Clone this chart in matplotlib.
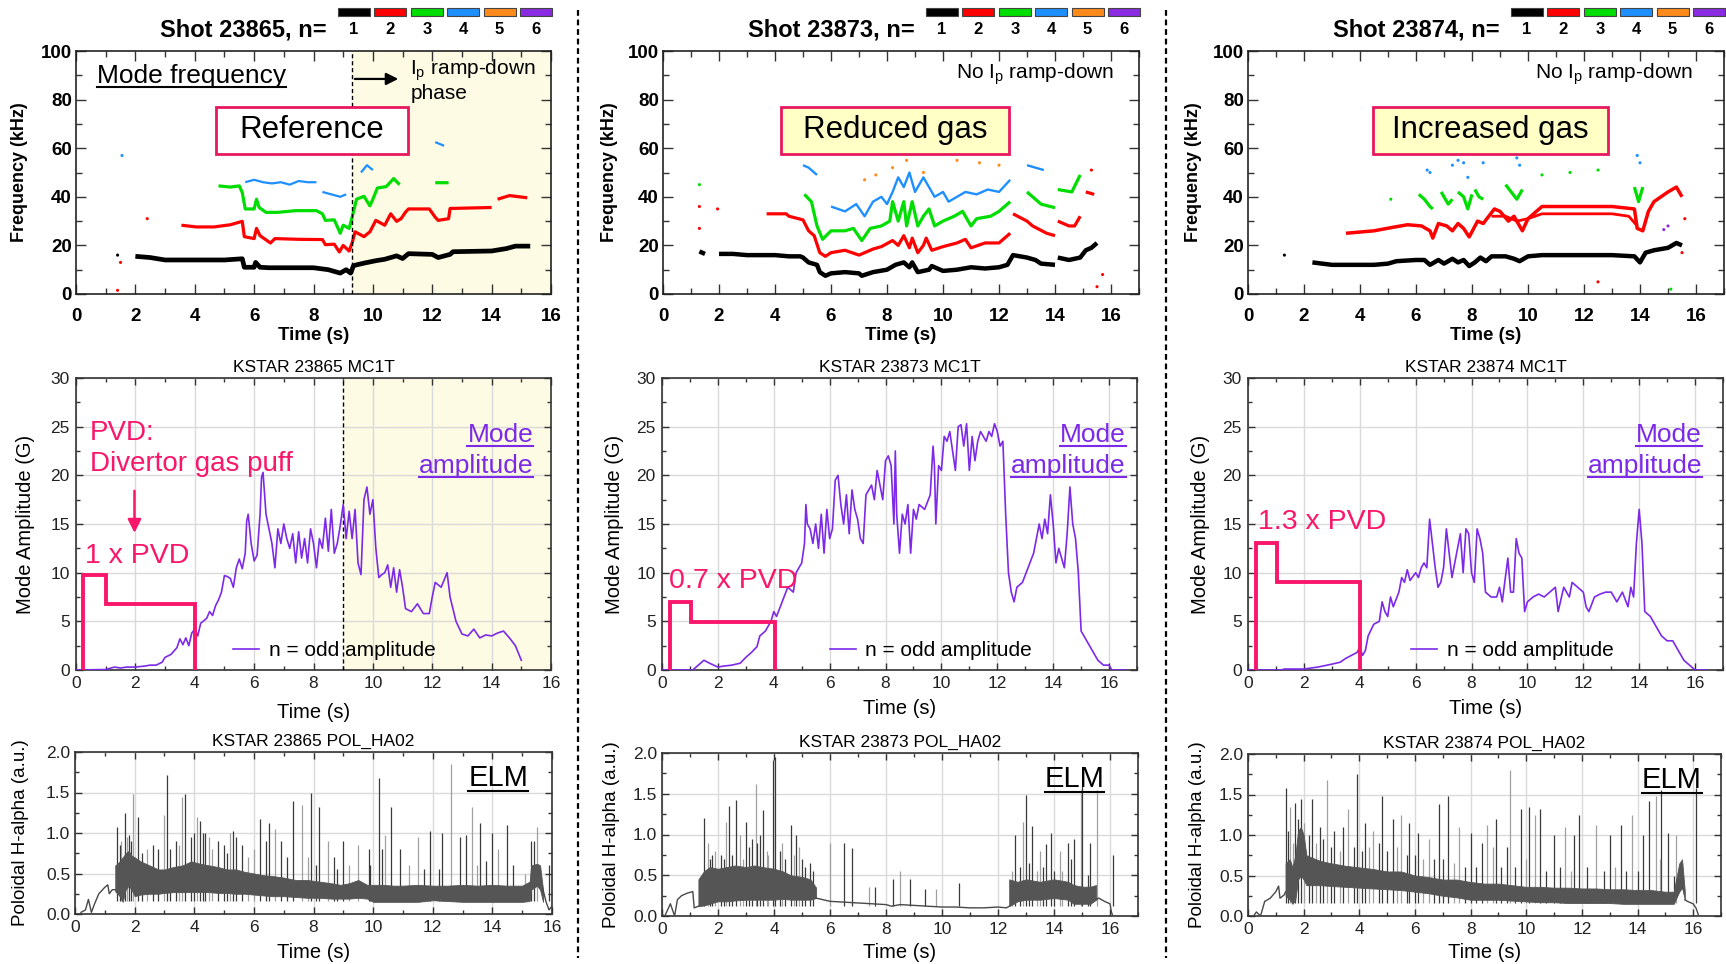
import numpy as np
import matplotlib
matplotlib.use("Agg")
import matplotlib.pyplot as plt
from matplotlib.patches import Rectangle
from matplotlib.lines import Line2D

nan = float("nan")

# ====================== DATA ======================
shots = ["23865", "23873", "23874"]
n_labels = ["1", "2", "3", "4", "5", "6"]
mode_colors = ["#000000", "#ff0000", "#00dd00", "#1e8fff", "#ff8a1c", "#8a2be2"]
box_labels = ["Reference", "Reduced gas", "Increased gas"]
pvd_labels = ["1 x PVD", "0.7 x PVD", "1.3 x PVD"]

# ---- mode frequency (kHz) vs time (s) ----
# shot 23865
s1_n1_t = [2.0, 2.5, 3.0, 3.5, 4.0, 4.5, 5.0, 5.6, 5.67, 6.0, 6.05, 6.2, 6.5, 7.0, 7.5, 8.0, 8.5, 8.9, 9.1, 9.25,
           9.35, 9.7, 10.1, 10.4, 10.8, 11.0, 11.2, 12.0, 12.2, 12.6, 12.7, 14.0, 14.5, 14.8, 15.3]
s1_n1_f = [15.5, 15, 14, 14, 14, 14, 14, 14.5, 11, 11, 13, 11, 10.8, 10.8, 10.8, 10.8, 10, 8.6, 10, 8.6,
           11.7, 12.7, 13.7, 14.3, 15.7, 14.6, 16.6, 16.3, 15, 16.3, 17.4, 17.7, 18.7, 19.7, 19.7]
s1_n2_t = [3.55, 4.05, 4.65, 5.2, 5.6, 5.67, 6.0, 6.08, 6.2, 6.55, 6.7, 7.5, 8.3, 8.4, 8.7, 8.87, 9.0, 9.2, 9.3, 9.4,
           9.7, 9.9, 10.1, 10.4, 10.6, 10.8, 10.95, 11.1, 11.2, 11.9, 12.1, 12.2, 12.55, 12.6, 14.0, nan, 14.2, 14.6, 15.2]
s1_n2_f = [28.3, 27.6, 27.6, 28.5, 29.9, 23.6, 22.8, 27, 24, 21, 22.8, 22.5, 22.4, 20.3, 20.5, 17.3, 20, 17.7, 21, 25.6,
           23.6, 25.6, 30.3, 28.3, 33, 29.9, 31, 33.7, 35, 35, 31.6, 30.3, 31, 35.2, 35.6, nan, 39, 40.5, 39.6]
s1_n3_t = [4.8, 5.2, 5.5, 5.6, 5.7, 6.0, 6.08, 6.17, 6.4, 6.8, 7.4, 8.1, 8.3, 8.4, 8.7, 8.9, 9.0, 9.2, 9.3, 9.45,
           9.7, 9.9, 10.0, 10.15, 10.45, 10.7, 10.9, nan, 12.1, 12.55]
s1_n3_f = [44.5, 44, 44.5, 41.8, 35, 35, 39, 35.6, 33.6, 33.6, 34.3, 34.3, 33, 30.3, 30.5, 25, 28.3, 27, 31.6, 39,
           40.2, 36.3, 39, 43.6, 44.2, 47.5, 45, nan, 45.8, 45.8]
s1_n4_t = [5.7, 6.0, 6.3, 6.6, 6.9, 7.2, 7.5, 7.8, 8.1, nan, 8.3, 8.6, 8.9, 9.1, nan, 9.6, 9.8, 10.0, nan, 12.1, 12.4]
s1_n4_f = [46, 47, 46, 45.5, 46, 45, 46.5, 46, 46, nan, 42, 41, 40, 41, nan, 50, 53, 51, nan, 62.5, 61]
s1_dot_t = [1.4, 1.4, 1.5, 2.4, 1.55]
s1_dot_f = [16, 1.5, 13, 31, 57]
s1_dot_c = [0, 1, 1, 1, 3]

# shot 23873
s2_n1_t = [1.3, 1.5, nan, 2.0, 2.5, 3.0, 3.5, 4.0, 4.5, 4.9, 5.0, 5.2, 5.5, 5.6, 5.8, 6.0, 6.5, 7.0, 7.1, 7.5,
           8.0, 8.3, 8.6, 8.8, 8.9, 9.1, 9.5, 9.6, 10.0, 10.5, 11.0, 11.5, 12.0, 12.3, 12.5, 13.0, 13.3, 13.5, 14.0,
           14.05, 14.1, 14.5, 14.9, 15.1, 15.3, 15.5]
s2_n1_f = [17.5, 16.5, nan, 16.5, 16.5, 16, 16, 16, 15.5, 15.5, 15, 13, 12, 9, 7.5, 8.5, 9, 8.5, 7.5, 9,
           10, 12, 13, 11, 13, 9, 10, 11.5, 9.5, 10, 11, 10.5, 11, 12, 16, 15, 14, 12.5, 12,
           nan, 15, 14, 15, 18, 19, 21]
s2_n2_t = [3.7, 4.0, 4.4, 4.5, 5.0, 5.2, 5.4, 5.6, 5.8, 6.0, 6.5, 7.0, 7.5, 7.8, 8.2, 8.4, 8.6, 8.8, 8.9, 9.1,
           9.3, 9.4, 9.6, 10.0, 10.5, 10.8, 11.0, 11.5, 12.0, 12.4, 12.45, 12.5, 13.0, 13.2, 13.7, 14.0, 14.05, 14.1,
           14.5, 14.7, 14.9, 14.95, 15.1, 15.4]
s2_n2_f = [33, 33, 33, 32, 30.5, 26, 24, 17, 15.5, 17, 18, 16, 18.5, 19.5, 22, 20, 24, 19, 23, 17,
           20, 23, 18, 19.5, 21, 22.5, 19, 21, 21, 25, nan, 33, 30, 28, 25, 24, nan, 30,
           28, 28, 32, nan, 42, 41]
s2_n3_t = [5.05, 5.3, 5.5, 5.7, 6.0, 6.5, 6.8, 7.1, 7.4, 7.8, 8.1, 8.2, 8.4, 8.6, 8.7, 8.9, 9.1, 9.3, 9.5, 9.7,
           10.0, 10.4, 10.7, 11.0, 11.2, 11.7, 12.0, 12.4, 12.45, 13.0, 13.5, 14.0, 14.05, 14.1, 14.6, 14.9]
s2_n3_f = [41, 38, 28, 22.5, 26, 26, 27, 22, 27, 28, 30, 38, 30, 38, 28, 38, 28, 32, 35, 28,
           30, 32, 34, 28, 31, 32, 34, 38, nan, 42, 37, 35.5, nan, 43, 42, 49]
s2_n4_t = [5.0, 5.2, 5.5, nan, 6.0, 6.5, 6.9, 7.2, 7.5, 7.8, 8.0, 8.2, 8.4, 8.6, 8.8, 9.0, 9.3, 9.7, 10.0, 10.2,
           10.8, 11.2, 11.6, 12.0, 12.4, nan, 13.0, 13.6]
s2_n4_f = [53, 52, 49, nan, 36, 34, 37, 32, 38, 40, 37, 42, 48, 44, 50, 42, 48, 40, 42, 38,
           42, 41, 43, 42, 47, nan, 53, 51]
s2_dot_t = [7.2, 7.6, 8.2, 8.7, 9.3, 10.5, 11.3, 12.0, 1.3, 1.3, 1.3, 1.95, 15.5, 15.7, 15.3]
s2_dot_f = [47, 49, 52, 55, 50, 55, 54, 53, 45, 36, 27, 35, 3, 8, 51]
s2_dot_c = [4, 4, 4, 4, 4, 4, 4, 4, 2, 1, 1, 1, 1, 1, 1]

# shot 23874
s3_n1_t = [2.3, 3.0, 3.5, 4.0, 4.5, 5.0, 5.3, 6.0, 6.3, 6.5, 6.8, 7.0, 7.3, 7.5, 7.7, 7.9, 8.1, 8.3, 8.5, 8.7,
           9.2, 9.5, 9.7, 10.0, 10.5, 11.0, 12.0, 13.0, 13.8, 14.0, 14.2, 14.5, 15.0, 15.3, 15.5]
s3_n1_f = [13, 12, 12, 12, 12, 12.5, 13.5, 14, 14, 12, 14, 12.5, 14.5, 13, 14, 11.5, 13, 15, 13.5, 15.5,
           15.5, 14.5, 13.5, 15.5, 16, 16, 16, 16, 15.5, 13, 17, 18, 19, 21, 20]
s3_n2_t = [3.5, 4.0, 4.5, 5.2, 5.7, 6.2, 6.5, 6.6, 6.8, 7.1, 7.3, 7.5, 7.7, 7.9, 8.2, 8.4, 8.8, 9.0, 9.3, 9.5,
           9.7, 9.8, 10.0, 10.3, 10.5, 11.0, 12.0, 13.0, 13.8, 13.9, 14.1, 14.3, 14.5, 15.0, 15.3, 15.5]
s3_n2_f = [25, 25.5, 26, 27.5, 28.5, 28, 26, 23, 29, 28, 26, 29, 27, 23.5, 30, 29, 35, 34, 30, 32,
           28, 26, 31, 34, 36, 36, 36, 36, 35, 27, 26, 34, 38, 42, 44, 40]
s3_n2b_t = [8.7, 9.2, 9.6, 10.0, 10.5, 11.0, 12.0, 13.0, 13.6, 13.9]
s3_n2b_f = [32, 32, 30, 31, 33, 33, 33, 33, 32, 28]
s3_n3_t = [6.1, 6.3, 6.5, 6.6, nan, 6.9, 7.0, 7.15, 7.3, nan, 7.5, 7.7, 7.85, 8.0, nan, 8.1, 8.25, 8.4, nan,
           9.2, 9.4, 9.6, 9.8, nan, 13.8, 13.95, 14.1]
s3_n3_f = [41, 39, 36, 35, nan, 42, 40, 37, 39, nan, 42, 40, 35, 41, nan, 43, 40, 39, nan,
           45, 42, 39, 43, nan, 44, 38, 44]
s3_dot_t = [6.4, 6.5, 7.3, 7.5, 7.7, 7.85, 8.4, 9.6, 9.7, 13.9, 14.0, 14.85, 15.0, 1.3, 5.1, 10.5, 11.5, 12.5,
            15.1, 12.5, 15.6, 15.5]
s3_dot_f = [51, 50, 53, 55, 54, 48, 54, 56, 53, 57, 54, 26.5, 28, 16, 39, 49, 50, 51, 2, 5, 31, 17]
s3_dot_c = [3, 3, 3, 3, 3, 3, 3, 3, 3, 3, 3, 5, 5, 0, 2, 2, 2, 2, 2, 1, 1, 1]

# ---- mode amplitude (G) ----
a1_t = [0, 1.0, 1.3, 1.5, 1.7, 2.0, 2.3, 2.5, 2.7, 2.9, 3.0, 3.2, 3.4, 3.5, 3.6, 3.7, 3.8, 3.9, 4.0, 4.1,
        4.2, 4.4, 4.5, 4.6, 4.7, 4.8, 4.9, 5.0, 5.1, 5.2, 5.3, 5.4, 5.5, 5.6, 5.7, 5.75, 5.8, 5.9, 6.0, 6.1,
        6.2, 6.25, 6.3, 6.4, 6.5, 6.6, 6.7, 6.8, 6.9, 7.0, 7.1, 7.2, 7.3, 7.4, 7.5, 7.6, 7.7, 7.8, 7.9, 8.0,
        8.1, 8.2, 8.3, 8.4, 8.5, 8.6, 8.7, 8.8, 8.9, 9.0, 9.1, 9.2, 9.3, 9.4, 9.5, 9.6, 9.7, 9.8, 9.9, 10.0,
        10.1, 10.2, 10.3, 10.4, 10.5, 10.6, 10.7, 10.8, 10.9, 11.0, 11.1, 11.3, 11.5, 11.7, 11.9, 12.0, 12.1,
        12.3, 12.5, 12.6, 12.8, 13.0, 13.2, 13.4, 13.6, 13.8, 14.0, 14.2, 14.4, 14.6, 14.8, 15.0]
a1_v = [0, 0.05, 0.3, 0.2, 0.3, 0.3, 0.4, 0.5, 0.5, 0.8, 1.3, 1.6, 2.3, 3.2, 2.6, 3.3, 2.5, 3.8, 4.2, 3.5,
        4.8, 5.3, 6.0, 5.6, 6.6, 7.2, 8.0, 9.7, 9.6, 9.4, 8.5, 10.5, 11.4, 10.4, 12.0, 15.3, 16.0, 13.0, 11.2, 11.8,
        16.0, 19.8, 20.3, 16.0, 14.5, 13.0, 10.5, 14.5, 13.0, 15.0, 13.5, 12.5, 14.0, 11.0, 14.2, 11.5, 13.5, 11.0,
        14.5, 13.0, 10.5, 13.5, 12.5, 15.6, 12.2, 16.5, 12.0, 13.0, 14.8, 17.0, 13.5, 16.3, 13.5, 16.5, 11.0, 9.8,
        17.5, 18.8, 16.0, 17.5, 12.5, 9.5, 9.8, 10.0, 10.8, 8.5, 10.5, 8.0, 10.3, 8.5, 6.3, 6.0, 6.8, 5.8, 5.8,
        7.5, 9.0, 8.5, 10.0, 7.5, 5.0, 3.7, 3.5, 4.2, 3.3, 3.6, 3.5, 3.8, 4.0, 3.3, 2.5, 1.0]
a2_t = [0, 1.1, 1.3, 1.5, 1.7, 2.0, 2.2, 2.5, 2.8, 3.0, 3.2, 3.4, 3.5, 3.7, 3.9, 4.0, 4.1, 4.3, 4.5, 4.7,
        4.8, 5.0, 5.1, 5.15, 5.2, 5.3, 5.4, 5.5, 5.6, 5.7, 5.8, 5.9, 6.0, 6.1, 6.2, 6.3, 6.4, 6.5, 6.6, 6.7,
        6.8, 6.9, 7.0, 7.1, 7.2, 7.3, 7.5, 7.6, 7.7, 7.8, 7.9, 8.0, 8.1, 8.2, 8.3, 8.35, 8.4, 8.5, 8.6, 8.7,
        8.8, 8.9, 9.0, 9.1, 9.2, 9.4, 9.6, 9.7, 9.75, 9.8, 9.9, 10.0, 10.1, 10.2, 10.3, 10.4, 10.5, 10.6, 10.7,
        10.8, 10.9, 11.0, 11.1, 11.2, 11.3, 11.4, 11.5, 11.6, 11.7, 11.8, 11.9, 12.0, 12.1, 12.2, 12.3, 12.4,
        12.5, 12.6, 12.7, 12.9, 13.1, 13.3, 13.5, 13.6, 13.7, 13.8, 13.9, 14.0, 14.1, 14.2, 14.3, 14.4, 14.5,
        14.6, 14.7, 14.8, 14.9, 15.0, 15.2, 15.4, 15.6, 15.8, 16.0, 16.1, 16.6]
a2_v = [0, 0, 0.5, 1.0, 0.7, 0.3, 0.4, 0.5, 0.7, 1.3, 1.8, 2.4, 3.5, 4.0, 5.0, 6.0, 5.5, 7.0, 8.5, 8.0,
        10.0, 11.0, 13.0, 17.0, 15.0, 14.5, 13.0, 15.0, 12.5, 16.0, 12.0, 16.5, 13.5, 14.5, 19.5, 20.0, 17.0,
        15.0, 18.0, 14.0, 18.5, 16.5, 15.5, 13.5, 13.0, 18.0, 19.0, 17.5, 20.5, 19.0, 17.5, 21.5, 22.0, 21.0,
        15.0, 22.5, 16.0, 12.0, 16.0, 15.0, 17.0, 12.0, 16.5, 15.5, 17.0, 16.5, 18.0, 23.0, 21.0, 15.0, 21.0,
        20.5, 24.0, 23.5, 24.5, 22.5, 20.5, 25.0, 25.2, 23.0, 25.3, 20.5, 24.0, 21.5, 23.5, 24.5, 24.0, 23.5,
        24.5, 24.0, 25.3, 24.5, 23.0, 23.5, 16.0, 10.0, 8.0, 7.0, 8.5, 9.0, 10.5, 12.0, 15.0, 13.5, 15.5, 14.0,
        18.0, 15.0, 11.0, 12.5, 11.5, 10.5, 14.0, 18.8, 15.0, 13.5, 10.0, 4.0, 3.0, 2.0, 1.0, 0.5, 0.5, 0.0, 0.0]
a3_t = [0, 1.2, 1.3, 1.6, 2.0, 2.5, 3.0, 3.3, 3.5, 3.7, 3.9, 4.0, 4.1, 4.2, 4.3, 4.5, 4.7, 4.8, 4.9, 5.0,
        5.1, 5.2, 5.4, 5.5, 5.6, 5.7, 5.8, 6.0, 6.1, 6.2, 6.3, 6.4, 6.5, 6.6, 6.7, 6.8, 6.9, 7.0, 7.1, 7.2,
        7.3, 7.5, 7.6, 7.7, 7.8, 7.9, 8.0, 8.1, 8.2, 8.3, 8.4, 8.5, 8.7, 8.9, 9.0, 9.1, 9.3, 9.4, 9.5, 9.6,
        9.7, 9.8, 9.9, 10.0, 10.2, 10.4, 10.6, 10.8, 11.0, 11.1, 11.3, 11.5, 11.6, 11.8, 12.0, 12.1, 12.2, 12.4,
        12.6, 12.8, 13.0, 13.2, 13.4, 13.6, 13.7, 13.8, 13.9, 14.0, 14.1, 14.2, 14.4, 14.6, 14.8, 15.0, 15.2,
        15.4, 15.6, 15.8, 16.0, 16.4]
a3_v = [0, 0, 0.1, 0.1, 0.1, 0.3, 0.6, 0.8, 1.2, 1.5, 1.8, 2.3, 1.5, 2.0, 3.5, 4.7, 5.0, 7.0, 6.0, 5.5,
        7.5, 6.5, 8.0, 9.5, 9.0, 10.3, 9.2, 10.0, 9.5, 10.5, 11.0, 10.5, 15.5, 13.0, 10.5, 8.5, 9.0, 10.5, 14.5,
        12.0, 9.5, 12.5, 14.0, 10.0, 14.5, 14.0, 10.0, 9.0, 14.5, 13.5, 12.0, 8.0, 7.5, 7.5, 8.5, 7.0, 11.5, 8.0,
        8.0, 13.5, 12.0, 11.5, 6.0, 7.0, 7.5, 7.8, 7.5, 8.0, 8.5, 6.0, 8.5, 7.5, 9.0, 8.5, 8.0, 6.5, 6.0, 7.5,
        7.8, 8.0, 8.0, 7.0, 8.0, 6.5, 8.5, 7.5, 13.0, 16.5, 13.0, 6.0, 5.5, 4.5, 3.5, 3.0, 3.0, 2.0, 1.0, 0.5,
        0.0, 0.0]

# PVD gas-puff waveform (drawn on amplitude axis)
pvd_t = [[0.25, 0.25, 1.0, 1.0, 4.02, 4.02], [0.3, 0.3, 1.03, 1.03, 4.03, 4.03], [0.28, 0.28, 1.03, 1.03, 4.0, 4.0]]
pvd_v = [[0, 9.8, 9.8, 6.8, 6.8, 0], [0, 7.0, 7.0, 4.9, 4.9, 0], [0, 13.0, 13.0, 9.0, 9.0, 0]]

# ---- H-alpha (a.u.) ----
h1_pre_t = [0.2, 0.35, 0.45, 0.55, 0.65, 0.8, 1.0, 1.1, 1.15, 1.25, 1.35]
h1_pre_v = [0.02, 0.05, 0.18, 0.02, 0.12, 0.25, 0.33, 0.36, 0.25, 0.3, 0.3]
h1_t = [1.35, 1.5, 1.6, 1.7, 1.8, 1.9, 2.0, 2.2, 2.5, 2.8, 3.0, 3.3, 3.6, 3.9, 4.2, 4.5, 4.8, 5.1, 5.4, 5.7,
        6.0, 6.3, 6.6, 7.0, 7.4, 7.8, 8.2, 8.6, 8.9, 9.2, 9.5, 9.8, 10.0, 10.3, 10.7, 11.0, 11.5, 12.0, 12.5,
        13.0, 13.5, 14.0, 14.5, 15.0, 15.25, 15.3, 15.5, 15.6, 15.7]
h1_lo = [0.28, 0.22, 0.15, 0.3, 0.35, 0.3, 0.22, 0.24, 0.25, 0.25, 0.26, 0.27, 0.27, 0.27, 0.27, 0.27, 0.26, 0.26,
         0.25, 0.25, 0.24, 0.23, 0.22, 0.22, 0.21, 0.2, 0.2, 0.19, 0.19, 0.19, 0.2, 0.19, 0.15, 0.15, 0.15, 0.15,
         0.15, 0.17, 0.16, 0.15, 0.15, 0.15, 0.15, 0.15, 0.16, 0.3, 0.35, 0.3, 0.15]
h1_hi = [0.6, 0.65, 0.7, 0.75, 0.78, 0.72, 0.7, 0.65, 0.6, 0.55, 0.55, 0.58, 0.6, 0.65, 0.62, 0.6, 0.58, 0.55,
         0.55, 0.52, 0.5, 0.48, 0.47, 0.45, 0.42, 0.42, 0.4, 0.38, 0.36, 0.38, 0.42, 0.36, 0.36, 0.36, 0.35, 0.35,
         0.36, 0.35, 0.35, 0.36, 0.35, 0.36, 0.35, 0.35, 0.4, 0.6, 0.62, 0.6, 0.3]
h1_post_t = [15.7, 15.8, 15.9, 16.0]
h1_post_v = [0.3, 0.15, 0.05, 0.1]
h1_spk_t = [1.4, 1.55, 1.68, 1.8, 1.95, 2.1, 2.6, 3.0, 3.1, 3.4, 3.6, 3.7, 3.9, 4.1, 4.2, 4.35, 4.5, 4.8, 5.0,
            5.2, 5.4, 5.6, 6.0, 6.2, 6.5, 6.7, 6.9, 7.3, 7.6, 7.9, 8.2, 8.5, 8.7, 9.0, 9.5, 9.85, 10.2, 10.4,
            10.6, 10.9, 11.5, 11.9, 12.3, 12.6, 12.9, 13.1, 13.3, 13.6, 14.0, 14.2, 14.5, 15.3, 15.5, 15.9,
            1.5, 1.75, 1.88, 2.25, 2.4, 2.8, 3.2, 3.5, 4.0, 4.3, 4.6, 5.1, 5.3, 5.8, 6.4, 7.1, 7.8, 8.1, 8.8,
            9.2, 9.9, 10.3, 11.2, 11.7, 12.2, 13.5, 13.8, 14.7, 15.1, 15.4]
h1_spk_v = [1.08, 0.9, 1.25, 0.98, 1.48, 1.2, 0.85, 1.22, 1.72, 0.9, 1.45, 1.48, 0.95, 1.2, 1.15, 1.0, 0.95, 0.9,
            0.85, 1.0, 0.95, 0.85, 0.8, 1.17, 1.12, 1.05, 0.9, 1.4, 1.35, 1.5, 1.32, 0.9, 0.7, 0.9, 0.85, 0.8, 1.68,
            0.98, 1.32, 0.8, 0.95, 1.02, 1.0, 1.85, 0.95, 0.97, 1.32, 1.12, 1.0, 0.8, 1.1, 0.9, 1.08, 0.6,
            0.85, 0.95, 0.9, 0.75, 0.8, 0.8, 0.8, 0.85, 1.0, 1.0, 0.8, 0.75, 1.02, 0.7, 0.9, 0.7, 0.7, 0.6, 0.55,
            0.6, 0.6, 0.8, 0.6, 0.55, 0.55, 0.6, 0.65, 0.6, 0.5, 0.9]

h2_pre_t = [0.0, 0.1, 0.3, 0.45, 0.55, 0.7, 0.9, 1.1, 1.15, 1.3]
h2_pre_v = [0.02, 0.0, 0.15, 0.0, 0.2, 0.25, 0.28, 0.3, 0.1, 0.12]
h2_t = [1.3, 1.5, 1.7, 2.0, 2.3, 2.6, 3.0, 3.3, 3.6, 4.0, 4.3, 4.6, 5.0, 5.3, 5.5]
h2_lo = [0.12, 0.13, 0.15, 0.18, 0.18, 0.19, 0.2, 0.2, 0.2, 0.2, 0.21, 0.2, 0.2, 0.2, 0.22]
h2_hi = [0.45, 0.55, 0.6, 0.58, 0.6, 0.62, 0.6, 0.62, 0.6, 0.58, 0.55, 0.5, 0.48, 0.45, 0.35]
h2_mid_t = [5.5, 6.0, 6.5, 7.0, 7.5, 8.0, 8.2, 8.5, 9.0, 9.5, 10.0, 10.5, 11.0, 11.5, 12.0, 12.3, 12.4]
h2_mid_v = [0.22, 0.18, 0.17, 0.16, 0.15, 0.14, 0.12, 0.14, 0.13, 0.12, 0.11, 0.11, 0.1, 0.1, 0.11, 0.1, 0.12]
h2_t2 = [12.4, 12.7, 13.0, 13.5, 14.0, 14.5, 14.7, 15.0, 15.3, 15.5]
h2_lo2 = [0.12, 0.18, 0.2, 0.2, 0.22, 0.2, 0.15, 0.15, 0.15, 0.2]
h2_hi2 = [0.45, 0.42, 0.45, 0.42, 0.45, 0.42, 0.38, 0.36, 0.36, 0.38]
h2_post_t = [15.5, 15.6, 15.8, 16.0, 16.05, 16.1]
h2_post_v = [0.2, 0.22, 0.18, 0.15, 0.05, 0.0]
h2_spk_t = [1.5, 1.65, 1.8, 2.1, 2.3, 2.4, 2.65, 2.8, 3.0, 3.2, 3.35, 3.5, 3.6, 3.75, 3.95, 4.05, 4.3, 4.6, 4.8,
            4.9, 5.0, 5.3, 6.0, 6.5, 6.8, 7.4, 7.6, 8.25, 8.5, 8.85, 9.4, 9.8, 10.6, 12.6, 12.9, 13.0, 13.2, 13.5,
            13.7, 13.9, 14.2, 14.5, 14.7, 14.95, 15.0, 15.3, 15.55, 16.1,
            1.7, 1.9, 2.2, 2.5, 2.9, 3.1, 3.4, 3.8, 4.2, 4.4, 4.7, 5.1, 5.4, 12.5, 12.8, 13.1, 13.4, 13.6, 14.0,
            14.3, 14.6, 15.2]
h2_spk_v = [1.2, 0.9, 0.75, 0.75, 1.15, 1.35, 1.42, 1.0, 1.15, 0.95, 1.62, 1.0, 1.3, 0.8, 1.92, 1.95, 0.9, 1.12,
            1.0, 0.85, 0.7, 0.65, 0.9, 0.9, 0.83, 0.35, 0.35, 0.45, 0.55, 0.45, 0.33, 0.33, 0.4, 1.0, 1.15, 1.48,
            1.1, 0.8, 0.88, 1.02, 0.8, 0.9, 0.95, 1.55, 1.6, 0.9, 1.55, 0.75,
            0.7, 0.8, 0.7, 0.75, 0.7, 0.85, 0.9, 0.75, 0.8, 0.7, 0.75, 0.6, 0.55, 0.55, 0.6, 0.65, 0.55, 0.6, 0.55,
            0.55, 0.7, 0.5]

h3_pre_t = [0.2, 0.3, 0.45, 0.6, 0.8, 1.0, 1.1, 1.15, 1.3, 1.35]
h3_pre_v = [0.0, 0.05, 0.0, 0.18, 0.22, 0.3, 0.37, 0.22, 0.26, 0.3]
h3_t = [1.35, 1.5, 1.6, 1.7, 1.8, 1.9, 2.0, 2.1, 2.3, 2.6, 3.0, 3.5, 4.0, 4.5, 5.0, 5.5, 6.0, 6.5, 7.0, 7.5,
        8.0, 8.5, 9.0, 9.5, 10.0, 10.5, 11.0, 11.5, 12.0, 12.5, 13.0, 13.5, 14.0, 14.5, 15.0, 15.3, 15.5, 15.6, 15.7]
h3_lo = [0.25, 0.2, 0.15, 0.2, 0.45, 0.5, 0.45, 0.38, 0.38, 0.38, 0.37, 0.36, 0.35, 0.34, 0.33, 0.32, 0.3, 0.28,
         0.25, 0.23, 0.2, 0.2, 0.2, 0.19, 0.18, 0.17, 0.17, 0.16, 0.16, 0.16, 0.16, 0.15, 0.15, 0.15, 0.15, 0.15,
         0.3, 0.35, 0.2]
h3_hi = [0.65, 0.7, 0.6, 0.75, 1.05, 1.1, 1.0, 0.75, 0.72, 0.68, 0.65, 0.62, 0.6, 0.58, 0.55, 0.55, 0.5, 0.48,
         0.45, 0.45, 0.42, 0.4, 0.4, 0.38, 0.36, 0.36, 0.35, 0.35, 0.34, 0.34, 0.33, 0.33, 0.32, 0.32, 0.3, 0.3,
         0.65, 0.7, 0.3]
h3_post_t = [15.7, 15.8, 16.0, 16.1, 16.2]
h3_post_v = [0.2, 0.18, 0.15, 0.1, 0.0]
h3_spk_t = [1.35, 1.5, 1.7, 1.9, 2.0, 2.3, 2.6, 2.85, 3.1, 3.4, 3.6, 3.9, 4.2, 4.5, 4.8, 5.2, 5.5, 5.8, 6.1, 6.5,
            6.85, 7.2, 7.6, 8.0, 8.4, 8.6, 8.9, 9.3, 9.4, 9.8, 10.1, 10.3, 10.5, 11.0, 11.4, 11.7, 11.9, 12.5, 13.0,
            13.4, 13.8, 14.2, 14.4, 14.65, 14.85, 15.1, 15.4, 16.1,
            1.45, 1.6, 1.8, 2.2, 2.45, 2.7, 3.0, 3.3, 3.8, 4.1, 4.35, 4.7, 5.0, 5.35, 5.7, 6.0, 6.3, 6.7, 7.0,
            7.4, 7.8, 8.2, 8.8, 9.1, 9.6, 10.0, 10.7, 11.2, 11.6, 12.2, 12.8, 13.2, 13.6, 14.0, 14.8, 15.3]
h3_spk_v = [1.58, 1.35, 1.4, 1.45, 1.15, 1.45, 1.1, 1.68, 1.05, 1.1, 1.32, 1.75, 1.15, 1.05, 1.48, 1.2, 1.25,
            1.15, 1.02, 0.95, 1.38, 1.48, 1.1, 1.02, 0.9, 1.12, 1.2, 0.85, 1.8, 1.32, 1.35, 1.25, 1.32, 1.0, 1.1,
            1.0, 1.25, 1.12, 1.0, 1.12, 1.25, 1.0, 1.42, 1.48, 1.55, 1.02, 1.0, 1.58,
            1.05, 0.9, 1.2, 1.0, 0.9, 0.95, 0.85, 0.8, 0.85, 0.8, 0.85, 0.9, 0.8, 0.85, 0.75, 0.75, 0.7, 0.7, 0.7,
            0.65, 0.6, 0.6, 0.85, 0.6, 0.6, 0.7, 0.55, 0.6, 0.55, 0.6, 0.55, 0.6, 0.55, 0.55, 0.7, 0.5]

# ====================== FIGURE ======================
plt.rcParams["font.family"] = ["Liberation Sans", "DejaVu Sans"]
plt.rcParams["mathtext.fontset"] = "custom"
plt.rcParams["mathtext.rm"] = "Liberation Sans"
plt.rcParams["mathtext.it"] = "Liberation Sans:italic"
plt.rcParams["mathtext.bf"] = "Liberation Sans:bold"

W, H = 1726, 964
fig = plt.figure(figsize=(W / 100, H / 100), dpi=100)
fig.patch.set_facecolor("white")

PINK = "#f8176a"
PURPLE = "#7c2ae8"
SHADE = "#fdfbe3"


def add_ax(x0, y0, x1, y1):
    return fig.add_axes([x0 / W, 1 - y1 / H, (x1 - x0) / W, (y1 - y0) / H])


top_boxes = [(76, 51, 551, 294), (663, 51, 1139, 294), (1248, 51, 1724, 294)]
mid_boxes = [(76, 378, 551, 670), (662, 378, 1137, 670), (1248, 378, 1723, 670)]
bot_boxes = [(75, 752, 552, 914), (662, 753, 1138, 916), (1248, 754, 1721, 916)]
xmaxes = [16, 17, 17]

underlines = []


def utext(ax, x, y, s, **kw):
    t = ax.text(x, y, s, **kw)
    underlines.append((t, kw.get("color", "k")))
    return t


freq_sets = [
    [(s1_n1_t, s1_n1_f, 0, 3.4), (s1_n2_t, s1_n2_f, 1, 2.3), (s1_n3_t, s1_n3_f, 2, 2.3), (s1_n4_t, s1_n4_f, 3, 1.6)],
    [(s2_n1_t, s2_n1_f, 0, 3.2), (s2_n2_t, s2_n2_f, 1, 2.3), (s2_n3_t, s2_n3_f, 2, 2.3), (s2_n4_t, s2_n4_f, 3, 1.7)],
    [(s3_n1_t, s3_n1_f, 0, 3.2), (s3_n2_t, s3_n2_f, 1, 2.5), (s3_n2b_t, s3_n2b_f, 1, 2.0),
     (s3_n3_t, s3_n3_f, 2, 2.3)],
]
dot_sets = [(s1_dot_t, s1_dot_f, s1_dot_c), (s2_dot_t, s2_dot_f, s2_dot_c), (s3_dot_t, s3_dot_f, s3_dot_c)]
amp_sets = [(a1_t, a1_v), (a2_t, a2_v), (a3_t, a3_v)]
ha_sets = [
    dict(pre=(h1_pre_t, h1_pre_v), bands=[(h1_t, h1_lo, h1_hi)], mids=[], post=(h1_post_t, h1_post_v),
         spk=(h1_spk_t, h1_spk_v), base=0.16),
    dict(pre=(h2_pre_t, h2_pre_v), bands=[(h2_t, h2_lo, h2_hi), (h2_t2, h2_lo2, h2_hi2)], mids=[(h2_mid_t, h2_mid_v)],
         post=(h2_post_t, h2_post_v), spk=(h2_spk_t, h2_spk_v), base=0.12),
    dict(pre=(h3_pre_t, h3_pre_v), bands=[(h3_t, h3_lo, h3_hi)], mids=[], post=(h3_post_t, h3_post_v),
         spk=(h3_spk_t, h3_spk_v), base=0.16),
]
ylabel_x = {"top": [19, 609, 1194], "mid": [25, 614, 1200], "bot": [21, 612, 1198]}
xlabel_y = {"top": [335, 335, 335], "mid": [712, 708, 709], "bot": [953, 953, 953]}

for k in range(3):
    xm = xmaxes[k]
    # ---------------- TOP: mode frequency ----------------
    x0, y0, x1, y1 = top_boxes[k]
    ax = add_ax(x0, y0, x1, y1)
    ax.set_xlim(0, xm)
    ax.set_ylim(0, 100)
    if k == 0:
        ax.axvspan(9.3, 16, color=SHADE, zorder=0, lw=0)
        ax.axvline(9.3, color="k", lw=1.0, ls=(0, (3, 2)), zorder=3)
    for (t, f, ci, lw) in freq_sets[k]:
        ax.plot(t, f, color=mode_colors[ci], lw=lw, solid_capstyle="butt", zorder=2)
    dt, df, dc = dot_sets[k]
    ax.scatter(dt, df, s=5, c=[mode_colors[c] for c in dc], linewidths=0, zorder=2)
    ax.set_xticks(range(0, 17, 2), [str(v) for v in range(0, 17, 2)], fontweight="bold", fontsize=13.5)
    ax.set_yticks(range(0, 101, 20), [str(v) for v in range(0, 101, 20)], fontweight="bold", fontsize=13.5)
    ax.set_xticks(range(1, xm + 1, 2), minor=True)
    ax.set_yticks(range(10, 100, 20), minor=True)
    ax.tick_params(which="both", direction="in", top=True, right=True, width=1.0, color="#333")
    ax.tick_params(which="major", length=7)
    ax.tick_params(which="minor", length=4)
    ax.tick_params(axis="x", pad=10)
    ax.tick_params(axis="y", pad=3)
    for sp in ax.spines.values():
        sp.set_linewidth(1.2)
        sp.set_color("#222")
    ax.set_xlabel("Time (s)", fontweight="bold", fontsize=13.5, va="center")
    ax.xaxis.set_label_coords(0.5, -(xlabel_y["top"][k] - y1) / (y1 - y0))
    ax.set_ylabel("Frequency (kHz)", fontweight="bold", fontsize=13, va="center")
    ax.yaxis.set_label_coords((ylabel_x["top"][k] - x0) / (x1 - x0), 0.5)

    # colour legend bars + title
    bar_w, pitch = 32, 36.4
    bx0 = x1 - 6 * pitch + (pitch - bar_w) + 1
    for i in range(6):
        bx = bx0 + i * pitch
        fig.add_artist(Rectangle((bx / W, 1 - 16 / H), bar_w / W, 8 / H, transform=fig.transFigure,
                                 facecolor=mode_colors[i], edgecolor="#444", lw=0.8))
        fig.text((bx + bar_w / 2) / W, 1 - 30 / H, n_labels[i], ha="center", va="center",
                 fontsize=12, fontweight="bold")
    fig.text((bx0 - 11) / W, 1 - 30 / H, "Shot %s, n=" % shots[k], ha="right", va="center",
             fontsize=17, fontweight="bold")

    # annotation boxes
    bxs = [(4.71, 11.18), (4.21, 12.36), (4.46, 12.86)][k]
    face = "white" if k == 0 else "#ffffc6"
    ax.add_patch(Rectangle((bxs[0], 57.6), bxs[1] - bxs[0], 19.4, facecolor=face, edgecolor="#e8185f",
                           lw=2.0, zorder=5))
    ax.text((bxs[0] + bxs[1]) / 2, 67.3, box_labels[k], ha="center", va="center", fontsize=22.5, zorder=6)
    if k == 0:
        utext(ax, 0.71, 89.7, "Mode frequency", fontsize=19, ha="left", va="center", color="k")
        ax.annotate("", xy=(10.95, 88.5), xytext=(9.3, 88.5),
                    arrowprops=dict(arrowstyle="-|>", color="k", lw=1.6, mutation_scale=18))
        ax.text(11.26, 92.0, r"I$_\mathrm{p}$ ramp-down", fontsize=15, ha="left", va="center")
        ax.text(11.26, 82.5, "phase", fontsize=15, ha="left", va="center")
    else:
        xr = [None, 16.1, 15.9][k]
        ax.text(xr, 90.5, r"No I$_\mathrm{p}$ ramp-down", fontsize=15, ha="right", va="center")

    # ---------------- MIDDLE: mode amplitude ----------------
    x0, y0, x1, y1 = mid_boxes[k]
    ax = add_ax(x0, y0, x1, y1)
    ax.set_xlim(0, xm)
    ax.set_ylim(0, 30)
    if k == 0:
        ax.axvspan(9.0, 16, color=SHADE, zorder=0, lw=0)
        ax.axvline(9.0, color="k", lw=1.0, ls=(0, (3, 2)), zorder=3)
    at, av = amp_sets[k]
    ax.plot(at, av, color=PURPLE, lw=1.2, zorder=4, label="n = odd amplitude")
    ax.plot(pvd_t[k], pvd_v[k], color=PINK, lw=2.8, zorder=5, solid_joinstyle="miter")
    ax.set_xticks(range(0, 17, 2))
    ax.set_xticks(range(1, xm + 1, 1), minor=True)
    ax.set_yticks(range(0, 31, 5))
    ax.set_yticks([2.5 + 5 * i for i in range(6)], minor=True)
    ax.grid(True, which="major", color="#dadada", lw=1.0)
    ax.set_axisbelow(True)
    ax.tick_params(which="both", direction="in", top=True, right=True, width=1.0, color="#333",
                   labelsize=12.5, labelcolor="#222")
    ax.tick_params(which="major", length=5)
    ax.tick_params(which="minor", length=3)
    ax.tick_params(axis="x", pad=4)
    ax.tick_params(axis="y", pad=4.5)
    for sp in ax.spines.values():
        sp.set_linewidth(1.2)
        sp.set_color("#333")
    ax.set_xlabel("Time (s)", fontsize=14.5, va="center")
    ax.xaxis.set_label_coords(0.5, -(xlabel_y["mid"][k] - y1) / (y1 - y0))
    ax.set_ylabel("Mode Amplitude (G)", fontsize=14.5, va="center")
    ax.yaxis.set_label_coords((ylabel_x["mid"][k] - x0) / (x1 - x0), 0.5)
    ax.text(0.5, 1 + 10 / (y1 - y0), "KSTAR %s MC1T" % shots[k], transform=ax.transAxes,
            ha="center", va="center", fontsize=12.5)
    lx = [5.3, 6.0, 5.85][k]
    ax.legend(loc="center left", bbox_to_anchor=(lx / xm, 2.0 / 30), frameon=False, fontsize=15,
              handlelength=1.25, handletextpad=0.45, borderpad=0, borderaxespad=0)
    mr = [15.4, 16.6, 16.25][k]
    utext(ax, mr, 24.1, "Mode", fontsize=19, ha="right", va="center", color=PURPLE)
    utext(ax, mr, 21.0, "amplitude", fontsize=19, ha="right", va="center", color=PURPLE)
    if k == 0:
        ax.text(0.46, 24.3, "PVD:", fontsize=20, color=PINK, ha="left", va="center")
        ax.text(0.46, 21.2, "Divertor gas puff", fontsize=20, color=PINK, ha="left", va="center")
        ax.annotate("", xy=(1.97, 13.8), xytext=(1.97, 18.7),
                    arrowprops=dict(arrowstyle="-|>", color=PINK, lw=1.8, mutation_scale=20))
    px_, py_ = [(0.31, 11.7), (0.24, 9.1), (0.34, 15.2)][k]
    ax.text(px_, py_, pvd_labels[k], fontsize=20.5, color=PINK, ha="left", va="center", zorder=6)

    # ---------------- BOTTOM: H-alpha ----------------
    x0, y0, x1, y1 = bot_boxes[k]
    ax = add_ax(x0, y0, x1, y1)
    ax.set_xlim(0, xm)
    ax.set_ylim(0, 2.0)
    d = ha_sets[k]
    st, sv = d["spk"]
    shades = ["#a0a0a0" if i % 3 == 1 else "#3a3a3a" for i in range(len(st))]
    ax.vlines(st, d["base"], sv, colors=shades, lw=0.9, zorder=2)
    for (bt, blo, bhi) in d["bands"]:
        ax.fill_between(bt, blo, bhi, color="#555555", lw=0.6, zorder=3)
    for (mt, mv) in d["mids"]:
        ax.plot(mt, mv, color="#484848", lw=1.0, zorder=3)
    ax.plot(d["pre"][0], d["pre"][1], color="#484848", lw=1.0, zorder=3)
    ax.plot(d["post"][0], d["post"][1], color="#484848", lw=1.0, zorder=3)
    ax.set_xticks(range(0, 17, 2))
    ax.set_xticks(range(1, xm + 1, 1), minor=True)
    ax.set_yticks([0, 0.5, 1.0, 1.5, 2.0], ["0.0", "0.5", "1.0", "1.5", "2.0"])
    ax.set_yticks([0.25, 0.75, 1.25, 1.75], minor=True)
    ax.grid(True, which="major", color="#dadada", lw=1.0)
    ax.set_axisbelow(True)
    ax.tick_params(which="both", direction="in", top=True, right=True, width=1.0, color="#333",
                   labelsize=12.5, labelcolor="#222")
    ax.tick_params(which="major", length=5)
    ax.tick_params(which="minor", length=3)
    ax.tick_params(axis="x", pad=4)
    ax.tick_params(axis="y", pad=3.5)
    for sp in ax.spines.values():
        sp.set_linewidth(1.2)
        sp.set_color("#333")
    ax.set_xlabel("Time (s)", fontsize=14.5, va="center")
    ax.xaxis.set_label_coords(0.5, -(xlabel_y["bot"][k] - y1) / (y1 - y0))
    ax.set_ylabel("Poloidal H-alpha (a.u.)", fontsize=13.5, va="center")
    ax.yaxis.set_label_coords((ylabel_x["bot"][k] - x0) / (x1 - x0), 0.5)
    ax.text(0.5, 1 + 11 / (y1 - y0), "KSTAR %s POL_HA02" % shots[k], transform=ax.transAxes,
            ha="center", va="center", fontsize=12.5)
    er = [15.2, 15.8, 16.3][k]
    utext(ax, er, 1.68, "ELM", fontsize=21, ha="right", va="center", color="k")

# separators
for sx in (578, 1166):
    fig.add_artist(Line2D([sx / W, sx / W], [1 - 10 / H, 1 - 958 / H], transform=fig.transFigure,
                          color="k", lw=1.6, ls=(0, (2.6, 1.7))))

# underlines
fig.canvas.draw()
rend = fig.canvas.get_renderer()
for t, c in underlines:
    bb = t.get_window_extent(rend)
    yy = bb.y0 + 1.0
    fig.add_artist(Line2D([bb.x0 / W, bb.x1 / W], [yy / H, yy / H], transform=fig.transFigure,
                          color=c, lw=1.5))

fig.savefig("out.png", dpi=100)
